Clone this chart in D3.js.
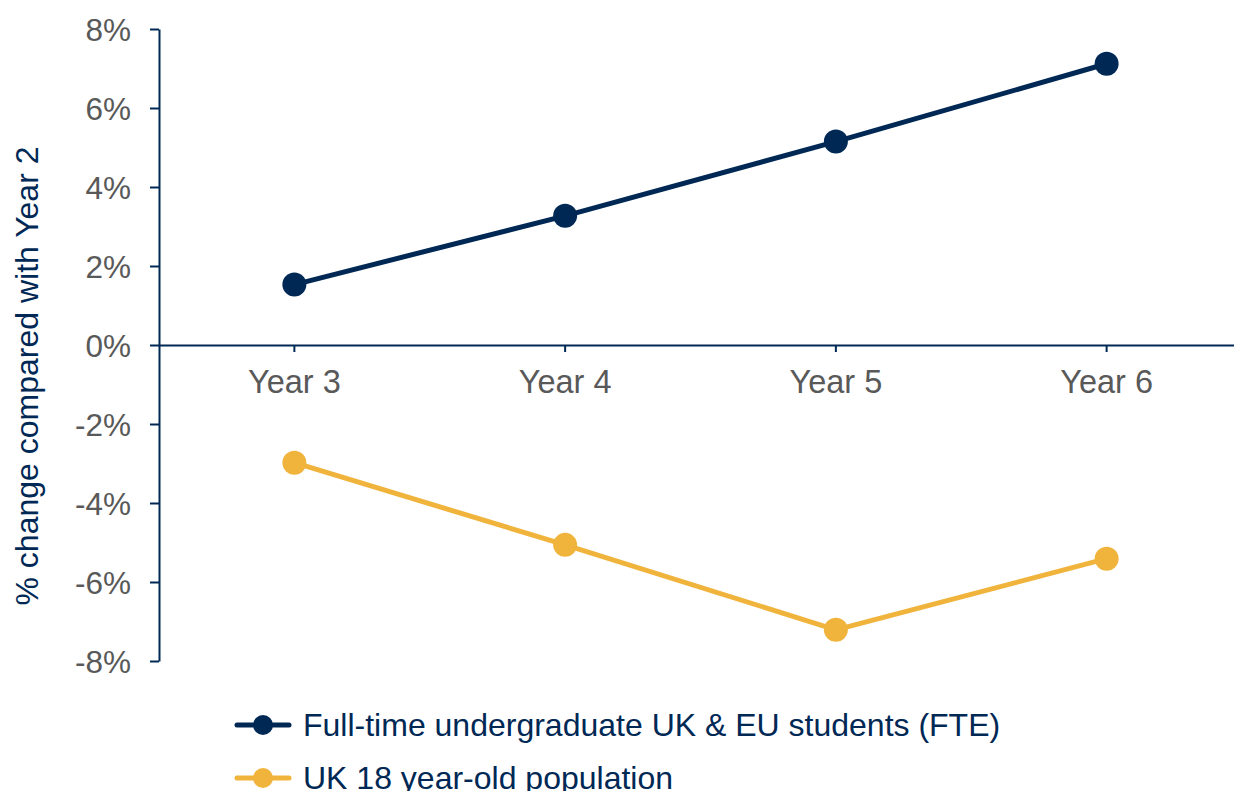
<!DOCTYPE html>
<html>
<head>
<meta charset="utf-8">
<script src="https://cdn.jsdelivr.net/npm/d3@7"></script>
<style>
  html, body { margin: 0; padding: 0; background: #ffffff; }
  svg { display: block; font-family: Arial, "Liberation Sans", sans-serif; }
</style>
</head>
<body>
<svg id="chart" width="1234" height="791"></svg>
<script>
// Categories and series (% change compared with Year 2)
const years = ["Year 3", "Year 4", "Year 5", "Year 6"];
const studentsFTE = [1.53, 3.27, 5.15, 7.12];
const population18 = [-2.98, -5.06, -7.21, -5.41];
const yTicks = [8, 6, 4, 2, 0, -2, -4, -6, -8];

const seriesNames = [
  "Full-time undergraduate UK & EU students (FTE)",
  "UK 18 year-old population"
];

const navy = "#002855";
const gold = "#f0b43c";
const grey = "#595959";

const svg = d3.select("#chart");

const x = d3.scaleBand().domain(years).range([159, 1242]).padding(0);
const y = d3.scaleLinear().domain([-8, 8]).range([661, 29]);

// Y axis
const yAxis = svg.append("g")
  .attr("transform", "translate(159,0)")
  .call(d3.axisLeft(y).tickValues(yTicks).tickSize(9).tickSizeOuter(0).tickPadding(19)
    .tickFormat(d => d + "%"));
yAxis.select(".domain").attr("stroke", navy).attr("stroke-width", 2);
yAxis.selectAll(".tick line").attr("stroke", navy).attr("stroke-width", 2);
yAxis.selectAll(".tick text")
  .attr("fill", grey).attr("font-size", 31.5)
  .attr("font-family", "Arial, 'Liberation Sans', sans-serif")
  .attr("dy", "0.35em");

// X axis along zero
const xAxis = svg.append("g")
  .attr("transform", `translate(0,${y(0)})`)
  .call(d3.axisBottom(x).tickSize(7).tickSizeOuter(0).tickPadding(0));
xAxis.select(".domain").attr("stroke", navy).attr("stroke-width", 2);
xAxis.selectAll(".tick line").attr("stroke", navy).attr("stroke-width", 2);
xAxis.selectAll(".tick text")
  .attr("fill", grey).attr("font-size", 32.5)
  .attr("font-family", "Arial, 'Liberation Sans', sans-serif")
  .attr("y", 37).attr("dy", "0.35em");

// Y axis title
svg.append("text")
  .attr("transform", `translate(27,${376}) rotate(-90)`)
  .attr("text-anchor", "middle")
  .attr("dominant-baseline", "central")
  .attr("fill", navy)
  .attr("font-size", 32)
  .text("% change compared with Year 2");

const cx = d => x(d) + x.bandwidth() / 2;

function drawSeries(values, color) {
  const pts = years.map((yr, i) => [cx(yr), y(values[i])]);
  svg.append("path")
    .attr("d", d3.line()(pts))
    .attr("fill", "none")
    .attr("stroke", color)
    .attr("stroke-width", 5)
    .attr("stroke-linejoin", "round");
  svg.append("g").selectAll("circle")
    .data(pts)
    .join("circle")
    .attr("cx", d => d[0])
    .attr("cy", d => d[1])
    .attr("r", 12)
    .attr("fill", color);
}

drawSeries(population18, gold);
drawSeries(studentsFTE, navy);

// Legend
const legend = svg.append("g");
const legendColors = [navy, gold];
seriesNames.forEach((name, i) => {
  const ly = 725 + i * 53;
  const g = legend.append("g");
  g.append("line")
    .attr("x1", 237).attr("x2", 289).attr("y1", ly).attr("y2", ly)
    .attr("stroke", legendColors[i]).attr("stroke-width", 5)
    .attr("stroke-linecap", "round");
  g.append("circle").attr("cx", 263).attr("cy", ly).attr("r", 10)
    .attr("fill", legendColors[i]);
  g.append("text")
    .attr("x", 303).attr("y", ly).attr("dy", "0.35em")
    .attr("fill", navy).attr("font-size", 32)
    .text(name);
});
</script>
</body>
</html>
